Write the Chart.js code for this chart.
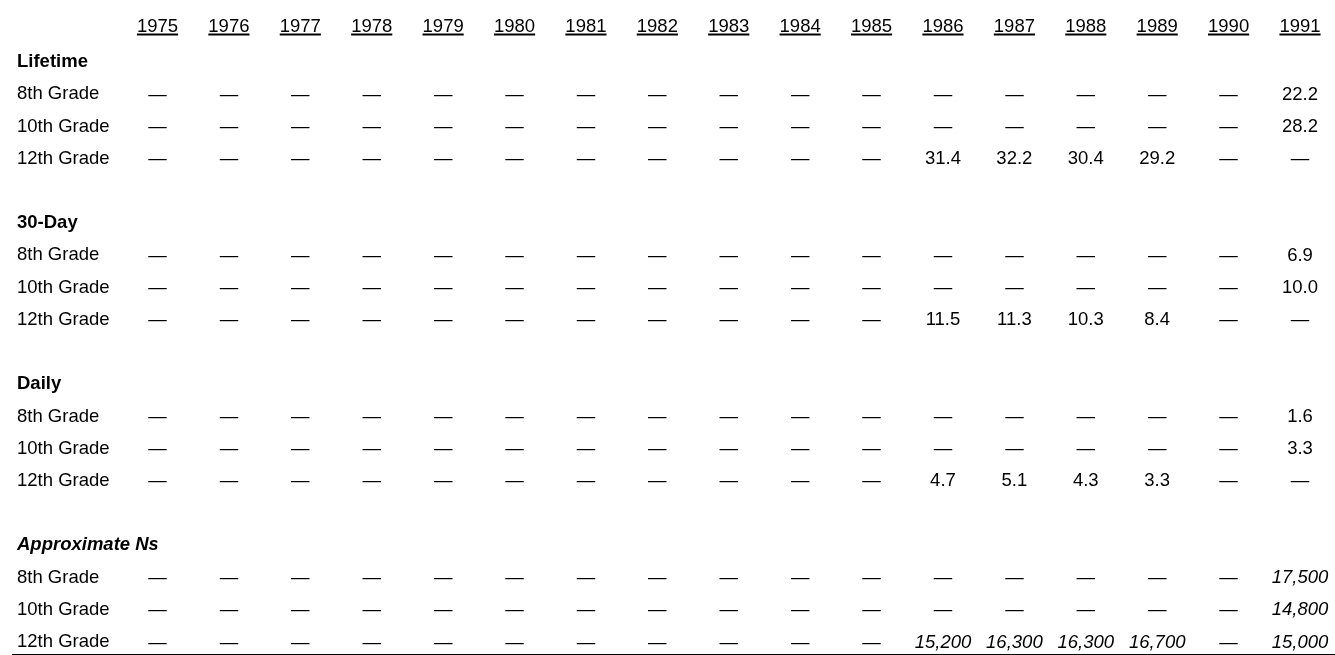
<!DOCTYPE html>
<html>
<head>
<meta charset="utf-8">
<script src="https://cdn.jsdelivr.net/npm/chart.js@4"></script>
<style>
  html, body { margin: 0; padding: 0; background: #fff; }
  #wrap { width: 1335px; height: 655px; position: relative; }
</style>
</head>
<body>
<div id="wrap"><canvas id="c"></canvas></div>
<script>
// ---- data ----
const years = ['1975','1976','1977','1978','1979','1980','1981','1982','1983','1984','1985','1986','1987','1988','1989','1990','1991'];
const rowLabels = ['Lifetime','8th Grade','10th Grade','12th Grade','',
                   '30-Day','8th Grade','10th Grade','12th Grade','',
                   'Daily','8th Grade','10th Grade','12th Grade','',
                   'Approximate Ns','8th Grade','10th Grade','12th Grade'];
const headerRows = ['Lifetime','30-Day','Daily'];
const italicHeader = 'Approximate Ns';

const N = null;
const lifetime8  = [N,N,N,N,N,N,N,N,N,N,N,N,N,N,N,N,22.2];
const lifetime10 = [N,N,N,N,N,N,N,N,N,N,N,N,N,N,N,N,28.2];
const lifetime12 = [N,N,N,N,N,N,N,N,N,N,N,31.4,32.2,30.4,29.2,N,N];
const day30_8    = [N,N,N,N,N,N,N,N,N,N,N,N,N,N,N,N,6.9];
const day30_10   = [N,N,N,N,N,N,N,N,N,N,N,N,N,N,N,N,10.0];
const day30_12   = [N,N,N,N,N,N,N,N,N,N,N,11.5,11.3,10.3,8.4,N,N];
const daily8     = [N,N,N,N,N,N,N,N,N,N,N,N,N,N,N,N,1.6];
const daily10    = [N,N,N,N,N,N,N,N,N,N,N,N,N,N,N,N,3.3];
const daily12    = [N,N,N,N,N,N,N,N,N,N,N,4.7,5.1,4.3,3.3,N,N];
const ns8        = [N,N,N,N,N,N,N,N,N,N,N,N,N,N,N,N,17500];
const ns10       = [N,N,N,N,N,N,N,N,N,N,N,N,N,N,N,N,14800];
const ns12       = [N,N,N,N,N,N,N,N,N,N,N,15200,16300,16300,16700,N,15000];

// rows: [row index in rowLabels, values, isCount]
const tableRows = [
  [1, lifetime8, false], [2, lifetime10, false], [3, lifetime12, false],
  [6, day30_8, false], [7, day30_10, false], [8, day30_12, false],
  [11, daily8, false], [12, daily10, false], [13, daily12, false],
  [16, ns8, true], [17, ns10, true], [18, ns12, true]
];

const FONT = "'Liberation Sans', Arial, Helvetica, sans-serif";
const FS = 18.5;

const datasets = tableRows.map(([r, vals, isCount]) => ({
  label: rowLabels[r],
  isCount: isCount,
  values: vals,
  data: years.map((y) => ({ x: y, y: r })),
  pointRadius: 0,
  pointHoverRadius: 0,
  showLine: false
}));

function fmt(v, isCount) {
  if (v === null || v === undefined) return '\u2014';
  return isCount ? v.toLocaleString('en-US') : v.toFixed(1);
}

const cellPlugin = {
  id: 'cells',
  afterDatasetsDraw(chart) {
    const ctx = chart.ctx;
    ctx.save();
    ctx.fillStyle = '#000';
    ctx.textAlign = 'center';
    ctx.textBaseline = 'middle';
    chart.data.datasets.forEach((ds, di) => {
      const meta = chart.getDatasetMeta(di);
      meta.data.forEach((el, j) => {
        const v = ds.values[j];
        const txt = fmt(v, ds.isCount);
        const ital = ds.isCount && v !== null;
        ctx.font = (ital ? 'italic ' : '') + FS + 'px ' + FONT;
        ctx.fillText(txt, el.x, el.y + 0.5);
      });
    });
    // underline year headers
    const xs = chart.scales.x;
    ctx.font = FS + 'px ' + FONT;
    xs.ticks.forEach((t, i) => {
      const px = xs.getPixelForTick(i);
      const w = ctx.measureText(years[i]).width;
      ctx.fillRect(px - w / 2, 33.5, w, 2);
    });
    // bottom rule
    const ys = chart.scales.y;
    const yb = ys.getPixelForValue(rowLabels.length - 1) + 12;
    ctx.fillRect(12, yb, chart.width - 12, 1.5);
    ctx.restore();
  }
};

new Chart(document.getElementById('c'), {
  type: 'scatter',
  data: { datasets },
  options: {
    responsive: true,
    maintainAspectRatio: false,
    animation: false,
    events: [],
    layout: { padding: { left: 17, right: 35, top: 0, bottom: 13 } },
    plugins: { legend: { display: false }, tooltip: { enabled: false } },
    scales: {
      x: {
        type: 'category',
        labels: years,
        position: 'top',
        offset: false,
        grid: { display: false, drawTicks: false },
        border: { display: false },
        afterFit: (s) => { s.height = 62; },
        ticks: {
          autoSkip: false, maxRotation: 0, padding: 0,
          color: '#000',
          font: { family: FONT, size: FS, lineHeight: '70px' }
        }
      },
      y: {
        type: 'linear',
        reverse: true,
        min: 0,
        max: rowLabels.length - 1,
        grid: { display: false, drawTicks: false },
        border: { display: false },
        afterFit: (s) => { s.width = 140.5; },
        ticks: {
          stepSize: 1,
          autoSkip: false, padding: 0, crossAlign: 'far',
          color: '#000',
          callback: (v) => rowLabels[v] !== undefined ? rowLabels[v] : '',
          font: (c) => {
            const lab = c.tick ? rowLabels[c.tick.value] : '';
            if (lab === italicHeader) return { family: FONT, size: FS, weight: 'bold', style: 'italic' };
            if (headerRows.includes(lab)) return { family: FONT, size: FS, weight: 'bold' };
            return { family: FONT, size: FS };
          }
        }
      }
    }
  },
  plugins: [cellPlugin]
});
</script>
</body>
</html>
